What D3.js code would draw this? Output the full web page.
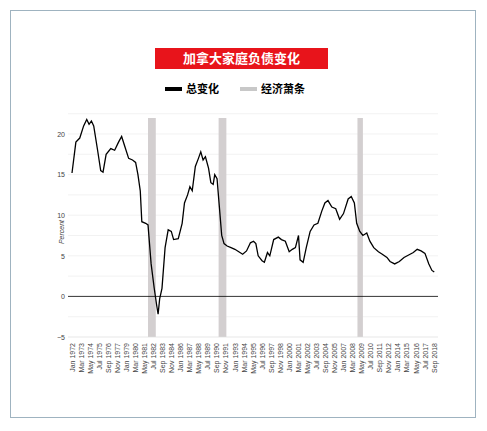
<!DOCTYPE html><html><head><meta charset="utf-8"><script src="https://cdn.jsdelivr.net/npm/d3@7"></script>
<style>body{margin:0;background:#fff}</style></head><body><svg id="c" width="487" height="431"></svg>
<script>
const years=[1972.0,1972.5,1973.0,1973.5,1973.9,1974.2,1974.5,1974.8,1975.3,1975.7,1976.0,1976.4,1977,1977.5,1978,1978.4,1978.8,1979.3,1979.8,1980.2,1980.5,1980.8,1981.0,1981.5,1981.8,1982.2,1982.6,1982.9,1983.1,1983.3,1983.6,1984,1984.4,1984.8,1985.1,1985.7,1986.2,1986.5,1986.9,1987.2,1987.5,1987.9,1988.3,1988.6,1988.9,1989.2,1989.6,1989.9,1990.2,1990.4,1990.7,1991.0,1991.3,1991.6,1992,1992.5,1993,1993.5,1994,1994.5,1995,1995.4,1995.7,1996,1996.5,1996.8,1997.2,1997.5,1998,1998.6,1999,1999.5,2000,2000.4,2000.8,2001.2,2001.4,2001.8,2002.2,2002.7,2003.2,2003.7,2004.2,2004.6,2005,2005.5,2006,2006.5,2007,2007.6,2008,2008.4,2008.7,2009.1,2009.5,2010,2010.4,2010.9,2011.5,2012,2012.6,2013,2013.6,2014.2,2014.8,2015.4,2016,2016.5,2017,2017.5,2018,2018.4,2018.7];
const values=[15.2,19,19.5,21,21.8,21.2,21.6,21,18,15.5,15.3,17.5,18.2,18,19,19.7,18.5,17,16.8,16.5,15,13,9.2,9,8.8,4,1,-1,-2.2,-0.3,1,6,8.2,8,7,7.1,9,11.5,12.5,13.5,13,16,17,17.8,16.8,17.2,15.8,14,13.8,15,14.5,11,7.5,6.5,6.2,6,5.8,5.5,5.2,5.6,6.6,6.8,6.5,5,4.4,4.2,5.4,5,7,7.3,7.0,6.8,5.5,5.8,6,7.5,4.5,4.2,6,8,8.8,9,10.5,11.5,11.8,11,10.8,9.5,10.2,12,12.3,11.5,9,8,7.5,7.8,6.8,6,5.5,5.2,4.8,4.3,4,4.3,4.8,5.1,5.4,5.8,5.6,5.3,4,3.2,3.0];
const recessions=[[1981.8,1982.8],[1990.9,1991.9],[2008.8,2009.5]];
const tickLabels=["Jan 1972","Mar 1973","May 1974","Jul 1975","Sep 1976","Nov 1977","Jan 1979","Mar 1980","May 1981","Jul 1982","Sep 1983","Nov 1984","Jan 1986","Mar 1987","May 1988","Jul 1989","Sep 1990","Nov 1991","Jan 1993","Mar 1994","May 1995","Jul 1996","Sep 1997","Nov 1998","Jan 2000","Mar 2001","May 2002","Jul 2003","Sep 2004","Nov 2005","Jan 2007","Mar 2008","May 2009","Jul 2010","Sep 2011","Nov 2012","Jan 2014","Mar 2015","May 2016","Jul 2017","Sep 2018"];
const yTicks=[-5,0,5,10,15,20];
const months={Jan:0,Mar:2,May:4,Jul:6,Sep:8,Nov:10};
const svg=d3.select("#c");
svg.append("rect").attr("x",10.5).attr("y",10.5).attr("width",465).attr("height",407).attr("fill","none").attr("stroke","#9fb3c0");
const x=d3.scaleLinear().domain([1972,2018+8/12]).range([72,434]);
const y=d3.scaleLinear().domain([-5,20]).range([337,134]);
const plotTop=118;
svg.append("rect").attr("x",155).attr("y",48).attr("width",173).attr("height",21).attr("fill","#e8141b");
svg.append("text").attr("x",241.5).attr("y",63).attr("text-anchor","middle").attr("fill","#fff").attr("font-size",13).attr("font-weight","bold").attr("font-family","Noto Sans CJK SC").text("加拿大家庭负债变化");
svg.append("rect").attr("x",165).attr("y",87).attr("width",17).attr("height",4).attr("fill","#000");
svg.append("text").attr("x",186).attr("y",93).attr("font-size",11).attr("font-weight","bold").attr("font-family","Noto Sans CJK SC").text("总变化");
svg.append("rect").attr("x",240).attr("y",87).attr("width",17).attr("height",4).attr("fill","#c8c8c8");
svg.append("text").attr("x",261).attr("y",93).attr("font-size",11).attr("font-weight","bold").attr("font-family","Noto Sans CJK SC").text("经济萧条");
d3.range(-2.5,22.6,2.5).forEach(v=>{if(v!==0)svg.append("line").attr("x1",68).attr("x2",438).attr("y1",y(v)).attr("y2",y(v)).attr("stroke","#ececec").attr("stroke-width",0.7);});
recessions.forEach(r=>svg.append("rect").attr("x",x(r[0])).attr("width",x(r[1])-x(r[0])).attr("y",plotTop).attr("height",337-plotTop).attr("fill","#d3cfd0"));
svg.append("line").attr("x1",68).attr("x2",438).attr("y1",y(0)).attr("y2",y(0)).attr("stroke","#000").attr("stroke-width",0.8);
svg.append("line").attr("x1",68).attr("x2",438).attr("y1",y(-5)).attr("y2",y(-5)).attr("stroke","#ddd").attr("stroke-width",0.7);
const ya=svg.append("g").attr("transform","translate(68,0)").call(d3.axisLeft(y).tickValues(yTicks).tickSize(0).tickPadding(3));
ya.select(".domain").remove();
ya.selectAll("text").attr("font-size",7).attr("fill","#444").attr("font-family","Liberation Sans");
svg.append("text").attr("transform","translate(64,232) rotate(-90)").attr("text-anchor","middle").attr("font-size",7).attr("font-style","italic").attr("fill","#444").attr("font-family","Liberation Sans").text("Percent");
const tv=tickLabels.map(s=>{const[m,yr]=s.split(" ");return +yr+months[m]/12;});
const xa=svg.append("g").attr("transform","translate(0,340)").call(d3.axisBottom(x).tickValues(tv).tickFormat((d,i)=>tickLabels[i]).tickSize(0).tickPadding(0));
xa.select(".domain").remove();
xa.selectAll("text").attr("transform","rotate(-90)").attr("text-anchor","end").attr("dx","-3").attr("dy","0.3em").attr("x",0).attr("y",0).attr("font-size",7).attr("fill","#444").attr("font-family","Liberation Sans");
const line=d3.line().x((d,i)=>x(years[i])).y(d=>y(d));
svg.append("path").datum(values).attr("d",line).attr("fill","none").attr("stroke","#000").attr("stroke-width",1.3);
</script></body></html>
